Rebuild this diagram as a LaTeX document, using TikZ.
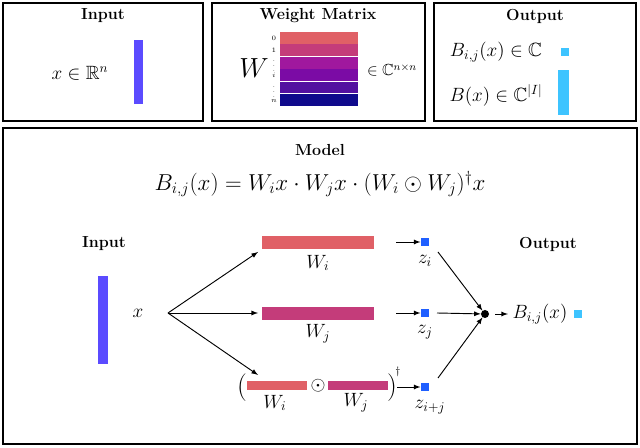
\documentclass[tikz,border=0pt]{standalone}
\usepackage{amsmath,amssymb}
\begin{document}
\begin{tikzpicture}[x=0.75pt,y=-0.75pt,
 box/.style={draw,line width=0.8pt},
 sq/.style={fill=zb,inner sep=0,minimum size=6.5pt},
 hd/.style={font=\large\bfseries},
 ar/.style={-latex,line width=0.7pt}]
\definecolor{wr}{HTML}{E06066}\definecolor{wm}{HTML}{C43C7A}
\definecolor{w2}{HTML}{A0189E}\definecolor{w3}{HTML}{7B0BA5}
\definecolor{w4}{HTML}{5310A0}\definecolor{w5}{HTML}{0F0A8C}
\definecolor{ib}{HTML}{5B4BFF}\definecolor{zb}{HTML}{1F5FFF}\definecolor{cy}{HTML}{3EC4FF}
\useasboundingbox (0,0) rectangle (640,448);
\draw[box] (3,3) rectangle (203,121);
\draw[box] (212,3) rectangle (425,121);
\draw[box] (434,3) rectangle (636,121);
\draw[box] (3,128) rectangle (637,444);
% input box
\node[hd] (t1) at (103,16) {Input};
\node (xin) at (80,73) {\Large $x\in\mathbb{R}^n$};
\fill[ib] (134,40) rectangle (143,104);
% weight box
\node[hd] (t2) at (318,16) {Weight Matrix};
\node (W) at (254,68) {\huge $W$};
\foreach \c [count=\k from 0] in {wr,wm,w2,w3,w4,w5}
  \fill[\c] (280,{32+\k*12.4}) rectangle (358,{32+(\k+1)*12.4-0.6});
\foreach \t/\y in {0/38,1/50,\vdots/62,i/75,\vdots/88,n/101}
  \node[font=\tiny,inner sep=0] at (274,\y) {$\t$};
\node (wset) at (392,70) {\large $\in\mathbb{C}^{n\times n}$};
% output box
\node[hd] (t3) at (535,16) {Output};
\node (b1) at (496,52) {\Large $B_{i,j}(x)\in\mathbb{C}$};
\node (b2) at (496,95) {\Large $B(x)\in\mathbb{C}^{|I|}$};
\fill[cy] (561,48) rectangle (569,56);
\fill[cy] (558,70) rectangle (569,115);
% model
\node[hd] (t4) at (320,150) {Model};
\node (f) at (320,184) {\LARGE $B_{i,j}(x)=W_ix\cdot W_jx\cdot(W_i\odot W_j)^{\dagger}x$};
\node[hd] (mi) at (104,244) {Input};
\fill[ib] (98,276) rectangle (108,364);
\node (x) at (138,313) {\Large $x$};
\coordinate (s) at (168,313);
\coordinate (e1) at (258,252);\coordinate (e2) at (258,313);\coordinate (e3) at (258,375);
\draw[ar] (s) -- (e1); \draw[ar] (s) -- (e2); \draw[ar] (s) -- (e3);
\fill[wr] (262,236) rectangle (374,249); \node (lwi) at (318,263) {\Large $W_i$};
\fill[wm] (262,307) rectangle (374,320); \node (lwj) at (318,334) {\Large $W_j$};
\node (lp) at (242,388) {\huge $($};
\fill[wr] (247,381) rectangle (307,390); \node at (275,403) {\Large $W_i$};
\node (od) at (318,386) {\Large $\odot$};
\fill[wm] (328,381) rectangle (388,390); \node at (356,403) {\Large $W_j$};
\node (rp) at (392,388) {\huge $)$};
\node at (398,372) {\footnotesize $\dagger$};
\node[sq] (zi) at (425,242) {}; \node at (425,261) {\Large $z_i$};
\node[sq] (zj) at (425,313) {}; \node at (425,332) {\Large $z_j$};
\node[sq] (zk) at (425,387) {}; \node at (430,407) {\Large $z_{i+j}$};
\draw[ar] (396,242) -- (zi.west);
\draw[ar] (396,313) -- (zj.west);
\draw[ar] (397,387) -- (zk.west);
\node[circle,fill,inner sep=0,minimum size=6pt] (d) at (485,314) {};
\draw[ar] (438,252) -- (d); \draw[ar] (437,313) -- (d); \draw[ar] (438,378) -- (d);
\node (B) at (540,314) {\Large $B_{i,j}(x)$};
\draw[ar] (d) ++(10,0) -- (B.west);
\fill[cy] (574,310) rectangle (582,318);
\node[hd] (mo) at (548,244) {Output};
\end{tikzpicture}
\end{document}
